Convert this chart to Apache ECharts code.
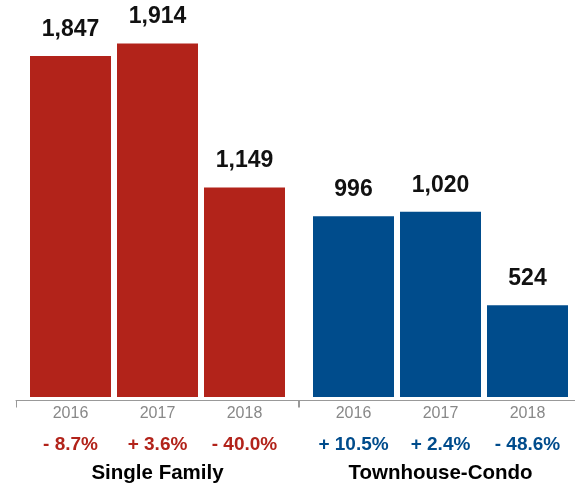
<!DOCTYPE html>
<html>
<head>
<meta charset="utf-8">
<script src="https://cdn.jsdelivr.net/npm/echarts@6/dist/echarts.min.js"></script>
<style>
html,body{margin:0;padding:0;background:#fff;}
#c{width:575px;height:487px;}
</style>
</head>
<body>
<div id="c"></div>
<script>
const years = ['2016', '2017', '2018'];
const singleFamily = [1847, 1914, 1149];
const townhouseCondo = [996, 1020, 524];
const singleFamilyChange = ['- 8.7%', '+ 3.6%', '- 40.0%'];
const townhouseCondoChange = ['+ 10.5%', '+ 2.4%', '- 48.6%'];
const groupNames = ['Single Family', 'Townhouse-Condo'];

const RED = '#B2231A';
const BLUE = '#004C8C';
const FONT = 'Helvetica, "Liberation Sans", Arial, sans-serif';

const chart = echarts.init(document.getElementById('c'), null, {renderer: 'canvas'});

const barGridTop = 43.5, barGridHeight = 353.5;
const yMin = 36, yMax = 1914;

function yearAxis(gridIndex) {
  return {
    type: 'category', gridIndex, data: years, position: 'bottom',
    axisLine: {show: false}, axisTick: {show: false},
    axisLabel: {color: '#888', fontSize: 16, fontFamily: FONT, margin: 9, interval: 0, hideOverlap: false}
  };
}
function changeAxis(gridIndex, labels, color, name) {
  return {
    type: 'category', gridIndex, data: labels, position: 'bottom', offset: 29,
    axisLine: {show: false}, axisTick: {show: false},
    axisLabel: {color, fontSize: 19, fontWeight: 'bold', fontFamily: FONT, margin: 9, interval: 0, hideOverlap: false},
    name, nameLocation: 'middle', nameGap: 37,
    nameTextStyle: {color: '#000', fontSize: 20.5, fontWeight: 'bold', fontFamily: FONT}
  };
}
function lineAxis(gridIndex) {
  return {
    type: 'value', gridIndex, min: 0, max: 1, interval: 1,
    axisLine: {show: true, lineStyle: {color: '#999', width: 1}},
    axisTick: {show: true, length: 7, lineStyle: {color: '#999'}},
    axisLabel: {show: false}, splitLine: {show: false}
  };
}
function hiddenY(gridIndex, min, max) {
  return {type: 'value', gridIndex, min, max, show: false, splitLine: {show: false}};
}
function barSeries(idx, data, color) {
  return {
    type: 'bar', xAxisIndex: idx, yAxisIndex: idx, data, barWidth: 81,
    itemStyle: {color},
    label: {
      show: true, position: 'top', distance: 15, color: '#111',
      fontSize: 23, fontWeight: 'bold', fontFamily: FONT,
      formatter: p => p.value.toLocaleString('en-US')
    },
    silent: true, animation: false
  };
}

const option = {
  backgroundColor: '#fff',
  animation: false,
  grid: [
    {left: 27, width: 261, top: barGridTop, height: barGridHeight, containLabel: false, outerBoundsMode: 'none'},
    {left: 310, width: 261, top: barGridTop, height: barGridHeight, containLabel: false, outerBoundsMode: 'none'},
    {left: 16, width: 283, top: 300, height: 100.5, containLabel: false, outerBoundsMode: 'none'},
    {left: 298, width: 300, top: 300, height: 100.5, containLabel: false, outerBoundsMode: 'none'}
  ],
  xAxis: [
    yearAxis(0), yearAxis(1),
    lineAxis(2), lineAxis(3),
    changeAxis(0, singleFamilyChange, RED, groupNames[0]),
    changeAxis(1, townhouseCondoChange, BLUE, groupNames[1])
  ],
  yAxis: [
    hiddenY(0, yMin, yMax), hiddenY(1, yMin, yMax),
    hiddenY(2, 0, 1), hiddenY(3, 0, 1)
  ],
  series: [
    barSeries(0, singleFamily, RED),
    barSeries(1, townhouseCondo, BLUE)
  ]
};
chart.setOption(option);
</script>
</body>
</html>
